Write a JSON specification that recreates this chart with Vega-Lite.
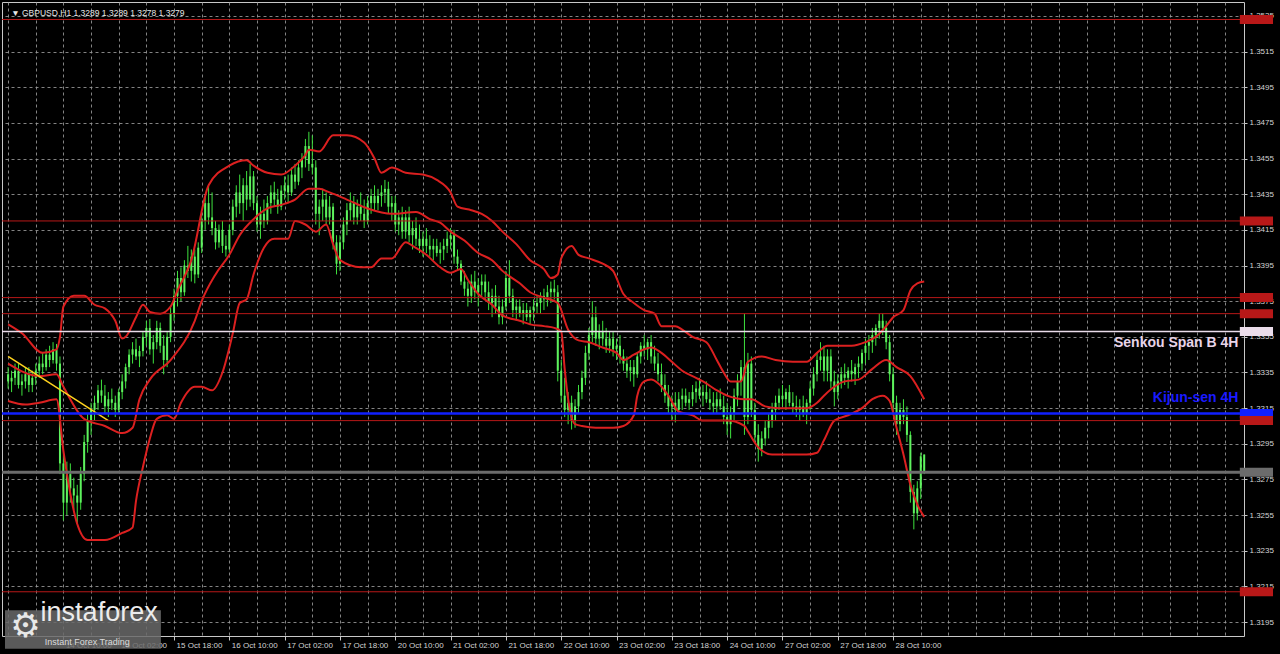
{
  "$schema": "https://vega.github.io/schema/vega-lite/v6.json",
  "width": 1242,
  "height": 634,
  "autosize": {"type": "none"},
  "padding": {"left": 2, "top": 2, "right": 36, "bottom": 18},
  "background": "#000000",
  "config": {
    "view": {"stroke": "#c8c8c8", "strokeWidth": 1, "fill": "#000000"}
  },
  "datasets": {
    "candles": [
      {"i":0,"o":1.3334,"h":1.3338,"l":1.3326,"c":1.3330},
      {"i":1,"o":1.3330,"h":1.3336,"l":1.3324,"c":1.3332},
      {"i":2,"o":1.3332,"h":1.3340,"l":1.3328,"c":1.3336},
      {"i":3,"o":1.3336,"h":1.3340,"l":1.3326,"c":1.3328},
      {"i":4,"o":1.3328,"h":1.3334,"l":1.3322,"c":1.3330},
      {"i":5,"o":1.3330,"h":1.3338,"l":1.3326,"c":1.3334},
      {"i":6,"o":1.3334,"h":1.3338,"l":1.3324,"c":1.3328},
      {"i":7,"o":1.3328,"h":1.3336,"l":1.3324,"c":1.3332},
      {"i":8,"o":1.3332,"h":1.3340,"l":1.3328,"c":1.3336},
      {"i":9,"o":1.3336,"h":1.3344,"l":1.3332,"c":1.3340},
      {"i":10,"o":1.3340,"h":1.3346,"l":1.3334,"c":1.3338},
      {"i":11,"o":1.3338,"h":1.3348,"l":1.3336,"c":1.3345},
      {"i":12,"o":1.3345,"h":1.3350,"l":1.3338,"c":1.3342},
      {"i":13,"o":1.3342,"h":1.3352,"l":1.3340,"c":1.3348},
      {"i":14,"o":1.3348,"h":1.3351,"l":1.3336,"c":1.3340},
      {"i":15,"o":1.3340,"h":1.3344,"l":1.3278,"c":1.3284},
      {"i":16,"o":1.3284,"h":1.3292,"l":1.3252,"c":1.3262},
      {"i":17,"o":1.3262,"h":1.3285,"l":1.3255,"c":1.3278},
      {"i":18,"o":1.3278,"h":1.3284,"l":1.3262,"c":1.3270},
      {"i":19,"o":1.3270,"h":1.3276,"l":1.3258,"c":1.3266},
      {"i":20,"o":1.3266,"h":1.3272,"l":1.3250,"c":1.3262},
      {"i":21,"o":1.3262,"h":1.3282,"l":1.3258,"c":1.3278},
      {"i":22,"o":1.3278,"h":1.3300,"l":1.3274,"c":1.3296},
      {"i":23,"o":1.3296,"h":1.3312,"l":1.3290,"c":1.3308},
      {"i":24,"o":1.3308,"h":1.3318,"l":1.3300,"c":1.3314},
      {"i":25,"o":1.3314,"h":1.3322,"l":1.3308,"c":1.3318},
      {"i":26,"o":1.3318,"h":1.3328,"l":1.3314,"c":1.3325},
      {"i":27,"o":1.3325,"h":1.3331,"l":1.3318,"c":1.3322},
      {"i":28,"o":1.3322,"h":1.3328,"l":1.3312,"c":1.3316},
      {"i":29,"o":1.3316,"h":1.3324,"l":1.3310,"c":1.3320},
      {"i":30,"o":1.3320,"h":1.3326,"l":1.3314,"c":1.3318},
      {"i":31,"o":1.3318,"h":1.3322,"l":1.3310,"c":1.3314},
      {"i":32,"o":1.3314,"h":1.3326,"l":1.3312,"c":1.3324},
      {"i":33,"o":1.3324,"h":1.3334,"l":1.3320,"c":1.3330},
      {"i":34,"o":1.3330,"h":1.3340,"l":1.3326,"c":1.3338},
      {"i":35,"o":1.3338,"h":1.3348,"l":1.3334,"c":1.3345},
      {"i":36,"o":1.3345,"h":1.3352,"l":1.3340,"c":1.3348},
      {"i":37,"o":1.3348,"h":1.3354,"l":1.3342,"c":1.3344},
      {"i":38,"o":1.3344,"h":1.3350,"l":1.3338,"c":1.3347},
      {"i":39,"o":1.3347,"h":1.3358,"l":1.3344,"c":1.3355},
      {"i":40,"o":1.3355,"h":1.3364,"l":1.3350,"c":1.3360},
      {"i":41,"o":1.3360,"h":1.3365,"l":1.3345,"c":1.3348},
      {"i":42,"o":1.3348,"h":1.3356,"l":1.3340,"c":1.3352},
      {"i":43,"o":1.3352,"h":1.3364,"l":1.3348,"c":1.3360},
      {"i":44,"o":1.3360,"h":1.3363,"l":1.3346,"c":1.3350},
      {"i":45,"o":1.3350,"h":1.3356,"l":1.3334,"c":1.3342},
      {"i":46,"o":1.3342,"h":1.3358,"l":1.3338,"c":1.3355},
      {"i":47,"o":1.3355,"h":1.3372,"l":1.3352,"c":1.3368},
      {"i":48,"o":1.3368,"h":1.3382,"l":1.3364,"c":1.3378},
      {"i":49,"o":1.3378,"h":1.3392,"l":1.3372,"c":1.3388},
      {"i":50,"o":1.3388,"h":1.3394,"l":1.3375,"c":1.3380},
      {"i":51,"o":1.3380,"h":1.3398,"l":1.3378,"c":1.3395},
      {"i":52,"o":1.3395,"h":1.3406,"l":1.3388,"c":1.3392},
      {"i":53,"o":1.3392,"h":1.3404,"l":1.3386,"c":1.3400},
      {"i":54,"o":1.3400,"h":1.3404,"l":1.3385,"c":1.3390},
      {"i":55,"o":1.3390,"h":1.3408,"l":1.3388,"c":1.3405},
      {"i":56,"o":1.3405,"h":1.3425,"l":1.3402,"c":1.3420},
      {"i":57,"o":1.3420,"h":1.3434,"l":1.3415,"c":1.3430},
      {"i":58,"o":1.3430,"h":1.3440,"l":1.3418,"c":1.3422},
      {"i":59,"o":1.3422,"h":1.3436,"l":1.3412,"c":1.3416},
      {"i":60,"o":1.3416,"h":1.3420,"l":1.3404,"c":1.3408},
      {"i":61,"o":1.3408,"h":1.3418,"l":1.3405,"c":1.3415},
      {"i":62,"o":1.3415,"h":1.3420,"l":1.3402,"c":1.3406},
      {"i":63,"o":1.3406,"h":1.3412,"l":1.3400,"c":1.3404},
      {"i":64,"o":1.3404,"h":1.3418,"l":1.3402,"c":1.3415},
      {"i":65,"o":1.3415,"h":1.3432,"l":1.3412,"c":1.3428},
      {"i":66,"o":1.3428,"h":1.3440,"l":1.3422,"c":1.3436},
      {"i":67,"o":1.3436,"h":1.3446,"l":1.3424,"c":1.3430},
      {"i":68,"o":1.3430,"h":1.3444,"l":1.3420,"c":1.3440},
      {"i":69,"o":1.3440,"h":1.3448,"l":1.3426,"c":1.3432},
      {"i":70,"o":1.3432,"h":1.3452,"l":1.3428,"c":1.3445},
      {"i":71,"o":1.3445,"h":1.3448,"l":1.3426,"c":1.3430},
      {"i":72,"o":1.3430,"h":1.3434,"l":1.3414,"c":1.3418},
      {"i":73,"o":1.3418,"h":1.3428,"l":1.3410,"c":1.3424},
      {"i":74,"o":1.3424,"h":1.3432,"l":1.3416,"c":1.3420},
      {"i":75,"o":1.3420,"h":1.3434,"l":1.3418,"c":1.3430},
      {"i":76,"o":1.3430,"h":1.3440,"l":1.3424,"c":1.3436},
      {"i":77,"o":1.3436,"h":1.3442,"l":1.3428,"c":1.3432},
      {"i":78,"o":1.3432,"h":1.3438,"l":1.3424,"c":1.3428},
      {"i":79,"o":1.3428,"h":1.3440,"l":1.3426,"c":1.3437},
      {"i":80,"o":1.3437,"h":1.3445,"l":1.3432,"c":1.3440},
      {"i":81,"o":1.3440,"h":1.3446,"l":1.3430,"c":1.3436},
      {"i":82,"o":1.3436,"h":1.3450,"l":1.3434,"c":1.3446},
      {"i":83,"o":1.3446,"h":1.3452,"l":1.3438,"c":1.3442},
      {"i":84,"o":1.3442,"h":1.3454,"l":1.3440,"c":1.3450},
      {"i":85,"o":1.3450,"h":1.3458,"l":1.3444,"c":1.3455},
      {"i":86,"o":1.3455,"h":1.3466,"l":1.3450,"c":1.3462},
      {"i":87,"o":1.3462,"h":1.3470,"l":1.3448,"c":1.3452},
      {"i":88,"o":1.3452,"h":1.3468,"l":1.3446,"c":1.3450},
      {"i":89,"o":1.3450,"h":1.3454,"l":1.3418,"c":1.3424},
      {"i":90,"o":1.3424,"h":1.3432,"l":1.3412,"c":1.3428},
      {"i":91,"o":1.3428,"h":1.3438,"l":1.3420,"c":1.3432},
      {"i":92,"o":1.3432,"h":1.3436,"l":1.3418,"c":1.3422},
      {"i":93,"o":1.3422,"h":1.3434,"l":1.3418,"c":1.3428},
      {"i":94,"o":1.3428,"h":1.3430,"l":1.3404,"c":1.3408},
      {"i":95,"o":1.3408,"h":1.3412,"l":1.3390,"c":1.3396},
      {"i":96,"o":1.3396,"h":1.3412,"l":1.3392,"c":1.3408},
      {"i":97,"o":1.3408,"h":1.3422,"l":1.3404,"c":1.3418},
      {"i":98,"o":1.3418,"h":1.3430,"l":1.3412,"c":1.3426},
      {"i":99,"o":1.3426,"h":1.3436,"l":1.3420,"c":1.3430},
      {"i":100,"o":1.3430,"h":1.3434,"l":1.3418,"c":1.3422},
      {"i":101,"o":1.3422,"h":1.3432,"l":1.3418,"c":1.3428},
      {"i":102,"o":1.3428,"h":1.3436,"l":1.3420,"c":1.3424},
      {"i":103,"o":1.3424,"h":1.3432,"l":1.3416,"c":1.3420},
      {"i":104,"o":1.3420,"h":1.3434,"l":1.3418,"c":1.3430},
      {"i":105,"o":1.3430,"h":1.3438,"l":1.3424,"c":1.3434},
      {"i":106,"o":1.3434,"h":1.3440,"l":1.3426,"c":1.3430},
      {"i":107,"o":1.3430,"h":1.3438,"l":1.3426,"c":1.3434},
      {"i":108,"o":1.3434,"h":1.3440,"l":1.3428,"c":1.3436},
      {"i":109,"o":1.3436,"h":1.3443,"l":1.3430,"c":1.3438},
      {"i":110,"o":1.3438,"h":1.3442,"l":1.3424,"c":1.3428},
      {"i":111,"o":1.3428,"h":1.3434,"l":1.3420,"c":1.3430},
      {"i":112,"o":1.3430,"h":1.3434,"l":1.3414,"c":1.3418},
      {"i":113,"o":1.3418,"h":1.3426,"l":1.3412,"c":1.3422},
      {"i":114,"o":1.3422,"h":1.3428,"l":1.3410,"c":1.3414},
      {"i":115,"o":1.3414,"h":1.3426,"l":1.3410,"c":1.3422},
      {"i":116,"o":1.3422,"h":1.3428,"l":1.3408,"c":1.3412},
      {"i":117,"o":1.3412,"h":1.3420,"l":1.3404,"c":1.3416},
      {"i":118,"o":1.3416,"h":1.3422,"l":1.3406,"c":1.3410},
      {"i":119,"o":1.3410,"h":1.3418,"l":1.3402,"c":1.3406},
      {"i":120,"o":1.3406,"h":1.3414,"l":1.3400,"c":1.3410},
      {"i":121,"o":1.3410,"h":1.3416,"l":1.3402,"c":1.3406},
      {"i":122,"o":1.3406,"h":1.3412,"l":1.3400,"c":1.3404},
      {"i":123,"o":1.3404,"h":1.3410,"l":1.3398,"c":1.3406},
      {"i":124,"o":1.3406,"h":1.3410,"l":1.3400,"c":1.3402},
      {"i":125,"o":1.3402,"h":1.3408,"l":1.3396,"c":1.3404},
      {"i":126,"o":1.3404,"h":1.3410,"l":1.3398,"c":1.3406},
      {"i":127,"o":1.3406,"h":1.3414,"l":1.3402,"c":1.3410},
      {"i":128,"o":1.3410,"h":1.3416,"l":1.3404,"c":1.3412},
      {"i":129,"o":1.3412,"h":1.3415,"l":1.3396,"c":1.3400},
      {"i":130,"o":1.3400,"h":1.3404,"l":1.3392,"c":1.3396},
      {"i":131,"o":1.3396,"h":1.3398,"l":1.3384,"c":1.3386},
      {"i":132,"o":1.3386,"h":1.3392,"l":1.3378,"c":1.3382},
      {"i":133,"o":1.3382,"h":1.3386,"l":1.3372,"c":1.3378},
      {"i":134,"o":1.3378,"h":1.3390,"l":1.3374,"c":1.3386},
      {"i":135,"o":1.3386,"h":1.3392,"l":1.3376,"c":1.3380},
      {"i":136,"o":1.3380,"h":1.3388,"l":1.3372,"c":1.3384},
      {"i":137,"o":1.3384,"h":1.3390,"l":1.3378,"c":1.3386},
      {"i":138,"o":1.3386,"h":1.3390,"l":1.3376,"c":1.3380},
      {"i":139,"o":1.3380,"h":1.3386,"l":1.3370,"c":1.3374},
      {"i":140,"o":1.3374,"h":1.3382,"l":1.3366,"c":1.3378},
      {"i":141,"o":1.3378,"h":1.3384,"l":1.3368,"c":1.3372},
      {"i":142,"o":1.3372,"h":1.3378,"l":1.3362,"c":1.3366},
      {"i":143,"o":1.3366,"h":1.3376,"l":1.3362,"c":1.3372},
      {"i":144,"o":1.3372,"h":1.3392,"l":1.3370,"c":1.3388},
      {"i":145,"o":1.3388,"h":1.3398,"l":1.3374,"c":1.3378},
      {"i":146,"o":1.3378,"h":1.3382,"l":1.3366,"c":1.3370},
      {"i":147,"o":1.3370,"h":1.3376,"l":1.3364,"c":1.3372},
      {"i":148,"o":1.3372,"h":1.3376,"l":1.3366,"c":1.3368},
      {"i":149,"o":1.3368,"h":1.3374,"l":1.3362,"c":1.3370},
      {"i":150,"o":1.3370,"h":1.3374,"l":1.3364,"c":1.3366},
      {"i":151,"o":1.3366,"h":1.3372,"l":1.3362,"c":1.3370},
      {"i":152,"o":1.3370,"h":1.3376,"l":1.3364,"c":1.3372},
      {"i":153,"o":1.3372,"h":1.3378,"l":1.3368,"c":1.3374},
      {"i":154,"o":1.3374,"h":1.3380,"l":1.3368,"c":1.3378},
      {"i":155,"o":1.3378,"h":1.3382,"l":1.3370,"c":1.3376},
      {"i":156,"o":1.3376,"h":1.3384,"l":1.3372,"c":1.3380},
      {"i":157,"o":1.3380,"h":1.3386,"l":1.3374,"c":1.3382},
      {"i":158,"o":1.3382,"h":1.3387,"l":1.3376,"c":1.3380},
      {"i":159,"o":1.3380,"h":1.3384,"l":1.3330,"c":1.3336},
      {"i":160,"o":1.3336,"h":1.3342,"l":1.3318,"c":1.3322},
      {"i":161,"o":1.3322,"h":1.3332,"l":1.3310,"c":1.3314},
      {"i":162,"o":1.3314,"h":1.3324,"l":1.3306,"c":1.3318},
      {"i":163,"o":1.3318,"h":1.3322,"l":1.3303,"c":1.3308},
      {"i":164,"o":1.3308,"h":1.3320,"l":1.3304,"c":1.3316},
      {"i":165,"o":1.3316,"h":1.3328,"l":1.3312,"c":1.3324},
      {"i":166,"o":1.3324,"h":1.3336,"l":1.3320,"c":1.3332},
      {"i":167,"o":1.3332,"h":1.3350,"l":1.3328,"c":1.3346},
      {"i":168,"o":1.3346,"h":1.3360,"l":1.3342,"c":1.3356},
      {"i":169,"o":1.3356,"h":1.3375,"l":1.3352,"c":1.3366},
      {"i":170,"o":1.3366,"h":1.3372,"l":1.3350,"c":1.3354},
      {"i":171,"o":1.3354,"h":1.3362,"l":1.3348,"c":1.3358},
      {"i":172,"o":1.3358,"h":1.3364,"l":1.3350,"c":1.3354},
      {"i":173,"o":1.3354,"h":1.3360,"l":1.3346,"c":1.3350},
      {"i":174,"o":1.3350,"h":1.3358,"l":1.3346,"c":1.3354},
      {"i":175,"o":1.3354,"h":1.3358,"l":1.3344,"c":1.3348},
      {"i":176,"o":1.3348,"h":1.3354,"l":1.3342,"c":1.3350},
      {"i":177,"o":1.3350,"h":1.3356,"l":1.3340,"c":1.3344},
      {"i":178,"o":1.3344,"h":1.3348,"l":1.3336,"c":1.3340},
      {"i":179,"o":1.3340,"h":1.3344,"l":1.3332,"c":1.3336},
      {"i":180,"o":1.3336,"h":1.3342,"l":1.3330,"c":1.3338},
      {"i":181,"o":1.3338,"h":1.3342,"l":1.3327,"c":1.3334},
      {"i":182,"o":1.3334,"h":1.3346,"l":1.3332,"c":1.3344},
      {"i":183,"o":1.3344,"h":1.3352,"l":1.3340,"c":1.3350},
      {"i":184,"o":1.3350,"h":1.3356,"l":1.3344,"c":1.3348},
      {"i":185,"o":1.3348,"h":1.3354,"l":1.3342,"c":1.3352},
      {"i":186,"o":1.3352,"h":1.3356,"l":1.3340,"c":1.3344},
      {"i":187,"o":1.3344,"h":1.3350,"l":1.3336,"c":1.3340},
      {"i":188,"o":1.3340,"h":1.3346,"l":1.3330,"c":1.3334},
      {"i":189,"o":1.3334,"h":1.3340,"l":1.3324,"c":1.3328},
      {"i":190,"o":1.3328,"h":1.3334,"l":1.3318,"c":1.3322},
      {"i":191,"o":1.3322,"h":1.3328,"l":1.3312,"c":1.3316},
      {"i":192,"o":1.3316,"h":1.3322,"l":1.3308,"c":1.3318},
      {"i":193,"o":1.3318,"h":1.3324,"l":1.3307,"c":1.3314},
      {"i":194,"o":1.3314,"h":1.3324,"l":1.3312,"c":1.3320},
      {"i":195,"o":1.3320,"h":1.3326,"l":1.3314,"c":1.3322},
      {"i":196,"o":1.3322,"h":1.3326,"l":1.3316,"c":1.3318},
      {"i":197,"o":1.3318,"h":1.3324,"l":1.3314,"c":1.3320},
      {"i":198,"o":1.3320,"h":1.3328,"l":1.3316,"c":1.3324},
      {"i":199,"o":1.3324,"h":1.3330,"l":1.3318,"c":1.3326},
      {"i":200,"o":1.3326,"h":1.3332,"l":1.3320,"c":1.3322},
      {"i":201,"o":1.3322,"h":1.3328,"l":1.3316,"c":1.3324},
      {"i":202,"o":1.3324,"h":1.3330,"l":1.3318,"c":1.3320},
      {"i":203,"o":1.3320,"h":1.3326,"l":1.3314,"c":1.3318},
      {"i":204,"o":1.3318,"h":1.3324,"l":1.3312,"c":1.3316},
      {"i":205,"o":1.3316,"h":1.3324,"l":1.3312,"c":1.3320},
      {"i":206,"o":1.3320,"h":1.3326,"l":1.3314,"c":1.3316},
      {"i":207,"o":1.3316,"h":1.3322,"l":1.3306,"c":1.3310},
      {"i":208,"o":1.3310,"h":1.3318,"l":1.3300,"c":1.3306},
      {"i":209,"o":1.3306,"h":1.3316,"l":1.3298,"c":1.3312},
      {"i":210,"o":1.3312,"h":1.3326,"l":1.3308,"c":1.3322},
      {"i":211,"o":1.3322,"h":1.3334,"l":1.3316,"c":1.3330},
      {"i":212,"o":1.3330,"h":1.3342,"l":1.3322,"c":1.3338},
      {"i":213,"o":1.3338,"h":1.3368,"l":1.3300,"c":1.3310},
      {"i":214,"o":1.3310,"h":1.3346,"l":1.3306,"c":1.3340},
      {"i":215,"o":1.3340,"h":1.3344,"l":1.3310,"c":1.3314},
      {"i":216,"o":1.3314,"h":1.3318,"l":1.3296,"c":1.3300},
      {"i":217,"o":1.3300,"h":1.3306,"l":1.3285,"c":1.3292},
      {"i":218,"o":1.3292,"h":1.3302,"l":1.3288,"c":1.3298},
      {"i":219,"o":1.3298,"h":1.3308,"l":1.3294,"c":1.3304},
      {"i":220,"o":1.3304,"h":1.3312,"l":1.3298,"c":1.3308},
      {"i":221,"o":1.3308,"h":1.3318,"l":1.3304,"c":1.3314},
      {"i":222,"o":1.3314,"h":1.3322,"l":1.3308,"c":1.3318},
      {"i":223,"o":1.3318,"h":1.3326,"l":1.3314,"c":1.3322},
      {"i":224,"o":1.3322,"h":1.3328,"l":1.3316,"c":1.3320},
      {"i":225,"o":1.3320,"h":1.3326,"l":1.3314,"c":1.3324},
      {"i":226,"o":1.3324,"h":1.3328,"l":1.3316,"c":1.3318},
      {"i":227,"o":1.3318,"h":1.3324,"l":1.3312,"c":1.3316},
      {"i":228,"o":1.3316,"h":1.3322,"l":1.3310,"c":1.3314},
      {"i":229,"o":1.3314,"h":1.3320,"l":1.3308,"c":1.3316},
      {"i":230,"o":1.3316,"h":1.3322,"l":1.3310,"c":1.3312},
      {"i":231,"o":1.3312,"h":1.3320,"l":1.3306,"c":1.3318},
      {"i":232,"o":1.3318,"h":1.3330,"l":1.3314,"c":1.3326},
      {"i":233,"o":1.3326,"h":1.3338,"l":1.3322,"c":1.3334},
      {"i":234,"o":1.3334,"h":1.3346,"l":1.3330,"c":1.3342},
      {"i":235,"o":1.3342,"h":1.3352,"l":1.3336,"c":1.3344},
      {"i":236,"o":1.3344,"h":1.3350,"l":1.3330,"c":1.3336},
      {"i":237,"o":1.3336,"h":1.3348,"l":1.3330,"c":1.3344},
      {"i":238,"o":1.3344,"h":1.3348,"l":1.3326,"c":1.3330},
      {"i":239,"o":1.3330,"h":1.3336,"l":1.3316,"c":1.3324},
      {"i":240,"o":1.3324,"h":1.3334,"l":1.3320,"c":1.3330},
      {"i":241,"o":1.3330,"h":1.3338,"l":1.3326,"c":1.3334},
      {"i":242,"o":1.3334,"h":1.3340,"l":1.3328,"c":1.3332},
      {"i":243,"o":1.3332,"h":1.3338,"l":1.3326,"c":1.3336},
      {"i":244,"o":1.3336,"h":1.3342,"l":1.3330,"c":1.3334},
      {"i":245,"o":1.3334,"h":1.3340,"l":1.3328,"c":1.3338},
      {"i":246,"o":1.3338,"h":1.3344,"l":1.3332,"c":1.3340},
      {"i":247,"o":1.3340,"h":1.3348,"l":1.3336,"c":1.3346},
      {"i":248,"o":1.3346,"h":1.3354,"l":1.3340,"c":1.3350},
      {"i":249,"o":1.3350,"h":1.3356,"l":1.3342,"c":1.3352},
      {"i":250,"o":1.3352,"h":1.3360,"l":1.3346,"c":1.3356},
      {"i":251,"o":1.3356,"h":1.3362,"l":1.3350,"c":1.3360},
      {"i":252,"o":1.3360,"h":1.3368,"l":1.3354,"c":1.3364},
      {"i":253,"o":1.3364,"h":1.3368,"l":1.3356,"c":1.3360},
      {"i":254,"o":1.3360,"h":1.3364,"l":1.3348,"c":1.3352},
      {"i":255,"o":1.3352,"h":1.3356,"l":1.3330,"c":1.3334},
      {"i":256,"o":1.3334,"h":1.3338,"l":1.3312,"c":1.3318},
      {"i":257,"o":1.3318,"h":1.3322,"l":1.3300,"c":1.3306},
      {"i":258,"o":1.3306,"h":1.3318,"l":1.3302,"c":1.3314},
      {"i":259,"o":1.3314,"h":1.3320,"l":1.3306,"c":1.3310},
      {"i":260,"o":1.3310,"h":1.3316,"l":1.3296,"c":1.3300},
      {"i":261,"o":1.3300,"h":1.3302,"l":1.3262,"c":1.3268},
      {"i":262,"o":1.3268,"h":1.3272,"l":1.3247,"c":1.3256},
      {"i":263,"o":1.3256,"h":1.3274,"l":1.3252,"c":1.3270},
      {"i":264,"o":1.3270,"h":1.3290,"l":1.3264,"c":1.3288},
      {"i":265,"o":1.3289,"h":1.3289,"l":1.3278,"c":1.3279}
    ],
    "bands": [
      {"b":"u","i":0,"p":1.3362},{"b":"u","i":4,"p":1.3357},{"b":"u","i":10,"p":1.3346},{"b":"u","i":14,"p":1.3348},{"b":"u","i":15,"p":1.3355},{"b":"u","i":16,"p":1.3372},{"b":"u","i":19,"p":1.3378},{"b":"u","i":22,"p":1.3378},{"b":"u","i":25,"p":1.3373},{"b":"u","i":28,"p":1.3371},{"b":"u","i":31,"p":1.3364},{"b":"u","i":33,"p":1.3354},{"b":"u","i":34,"p":1.3355},{"b":"u","i":37,"p":1.3366},{"b":"u","i":39,"p":1.3373},{"b":"u","i":41,"p":1.3369},{"b":"u","i":44,"p":1.3368},{"b":"u","i":47,"p":1.3372},{"b":"u","i":49,"p":1.3381},{"b":"u","i":53,"p":1.3398},{"b":"u","i":58,"p":1.3440},{"b":"u","i":64,"p":1.3451},{"b":"u","i":69,"p":1.3454},{"b":"u","i":71,"p":1.3451},{"b":"u","i":75,"p":1.3447},{"b":"u","i":79,"p":1.3446},{"b":"u","i":83,"p":1.3451},{"b":"u","i":86,"p":1.3457},{"b":"u","i":87,"p":1.3460},{"b":"u","i":90,"p":1.3459},{"b":"u","i":94,"p":1.3468},{"b":"u","i":98,"p":1.3468},{"b":"u","i":103,"p":1.3464},{"b":"u","i":106,"p":1.3455},{"b":"u","i":108,"p":1.3447},{"b":"u","i":111,"p":1.3450},{"b":"u","i":115,"p":1.3447},{"b":"u","i":120,"p":1.3446},{"b":"u","i":124,"p":1.3443},{"b":"u","i":128,"p":1.3436},{"b":"u","i":130,"p":1.3428},{"b":"u","i":134,"p":1.3426},{"b":"u","i":137,"p":1.3424},{"b":"u","i":140,"p":1.3420},{"b":"u","i":143,"p":1.3414},{"b":"u","i":147,"p":1.3407},{"b":"u","i":151,"p":1.3398},{"b":"u","i":155,"p":1.3393},{"b":"u","i":157,"p":1.3388},{"b":"u","i":159,"p":1.3390},{"b":"u","i":160,"p":1.3399},{"b":"u","i":163,"p":1.3406},{"b":"u","i":165,"p":1.3401},{"b":"u","i":168,"p":1.3399},{"b":"u","i":172,"p":1.3396},{"b":"u","i":175,"p":1.3392},{"b":"u","i":178,"p":1.3379},{"b":"u","i":181,"p":1.3374},{"b":"u","i":184,"p":1.3370},{"b":"u","i":187,"p":1.3368},{"b":"u","i":189,"p":1.3361},{"b":"u","i":193,"p":1.3361},{"b":"u","i":195,"p":1.3359},{"b":"u","i":198,"p":1.3355},{"b":"u","i":202,"p":1.3352},{"b":"u","i":205,"p":1.3342},{"b":"u","i":207,"p":1.3335},{"b":"u","i":209,"p":1.3330},{"b":"u","i":212,"p":1.3330},{"b":"u","i":214,"p":1.3341},{"b":"u","i":218,"p":1.3344},{"b":"u","i":222,"p":1.3342},{"b":"u","i":227,"p":1.3341},{"b":"u","i":231,"p":1.3341},{"b":"u","i":234,"p":1.3346},{"b":"u","i":237,"p":1.3350},{"b":"u","i":244,"p":1.3350},{"b":"u","i":248,"p":1.3352},{"b":"u","i":251,"p":1.3355},{"b":"u","i":254,"p":1.3361},{"b":"u","i":256,"p":1.3366},{"b":"u","i":259,"p":1.3370},{"b":"u","i":261,"p":1.3381},{"b":"u","i":263,"p":1.3385},{"b":"u","i":265,"p":1.3386},
      {"b":"m","i":0,"p":1.3340},{"b":"m","i":9,"p":1.3333},{"b":"m","i":14,"p":1.3334},{"b":"m","i":16,"p":1.3327},{"b":"m","i":22,"p":1.3309},{"b":"m","i":28,"p":1.3305},{"b":"m","i":33,"p":1.3301},{"b":"m","i":36,"p":1.3304},{"b":"m","i":38,"p":1.3320},{"b":"m","i":41,"p":1.3331},{"b":"m","i":47,"p":1.3342},{"b":"m","i":54,"p":1.3364},{"b":"m","i":56,"p":1.3375},{"b":"m","i":60,"p":1.3390},{"b":"m","i":64,"p":1.3401},{"b":"m","i":67,"p":1.3412},{"b":"m","i":71,"p":1.3421},{"b":"m","i":75,"p":1.3427},{"b":"m","i":79,"p":1.3429},{"b":"m","i":83,"p":1.3432},{"b":"m","i":87,"p":1.3438},{"b":"m","i":90,"p":1.3438},{"b":"m","i":93,"p":1.3436},{"b":"m","i":98,"p":1.3432},{"b":"m","i":104,"p":1.3427},{"b":"m","i":111,"p":1.3424},{"b":"m","i":118,"p":1.3425},{"b":"m","i":122,"p":1.3421},{"b":"m","i":125,"p":1.3419},{"b":"m","i":128,"p":1.3414},{"b":"m","i":132,"p":1.3409},{"b":"m","i":136,"p":1.3402},{"b":"m","i":140,"p":1.3398},{"b":"m","i":143,"p":1.3392},{"b":"m","i":148,"p":1.3385},{"b":"m","i":151,"p":1.3380},{"b":"m","i":155,"p":1.3377},{"b":"m","i":159,"p":1.3374},{"b":"m","i":162,"p":1.3359},{"b":"m","i":165,"p":1.3353},{"b":"m","i":168,"p":1.3352},{"b":"m","i":172,"p":1.3349},{"b":"m","i":176,"p":1.3346},{"b":"m","i":178,"p":1.3342},{"b":"m","i":181,"p":1.3345},{"b":"m","i":184,"p":1.3348},{"b":"m","i":186,"p":1.3349},{"b":"m","i":189,"p":1.3346},{"b":"m","i":192,"p":1.3341},{"b":"m","i":195,"p":1.3336},{"b":"m","i":199,"p":1.3332},{"b":"m","i":201,"p":1.3330},{"b":"m","i":205,"p":1.3325},{"b":"m","i":208,"p":1.3322},{"b":"m","i":213,"p":1.3320},{"b":"m","i":215,"p":1.3320},{"b":"m","i":219,"p":1.3316},{"b":"m","i":223,"p":1.3315},{"b":"m","i":231,"p":1.3315},{"b":"m","i":234,"p":1.3318},{"b":"m","i":236,"p":1.3322},{"b":"m","i":239,"p":1.3327},{"b":"m","i":242,"p":1.3330},{"b":"m","i":246,"p":1.3331},{"b":"m","i":250,"p":1.3337},{"b":"m","i":254,"p":1.3342},{"b":"m","i":257,"p":1.3338},{"b":"m","i":261,"p":1.3333},{"b":"m","i":265,"p":1.3320},
      {"b":"l","i":0,"p":1.3319},{"b":"l","i":5,"p":1.3317},{"b":"l","i":9,"p":1.3318},{"b":"l","i":14,"p":1.3320},{"b":"l","i":16,"p":1.3291},{"b":"l","i":18,"p":1.3267},{"b":"l","i":20,"p":1.3250},{"b":"l","i":23,"p":1.3241},{"b":"l","i":28,"p":1.3241},{"b":"l","i":33,"p":1.3245},{"b":"l","i":36,"p":1.3248},{"b":"l","i":37,"p":1.3263},{"b":"l","i":39,"p":1.3282},{"b":"l","i":41,"p":1.3298},{"b":"l","i":43,"p":1.3309},{"b":"l","i":46,"p":1.3311},{"b":"l","i":48,"p":1.3309},{"b":"l","i":50,"p":1.3318},{"b":"l","i":54,"p":1.3327},{"b":"l","i":56,"p":1.3327},{"b":"l","i":59,"p":1.3325},{"b":"l","i":62,"p":1.3335},{"b":"l","i":65,"p":1.3357},{"b":"l","i":67,"p":1.3374},{"b":"l","i":69,"p":1.3376},{"b":"l","i":71,"p":1.3390},{"b":"l","i":74,"p":1.3405},{"b":"l","i":77,"p":1.3410},{"b":"l","i":81,"p":1.3410},{"b":"l","i":83,"p":1.3420},{"b":"l","i":86,"p":1.3418},{"b":"l","i":89,"p":1.3414},{"b":"l","i":92,"p":1.3418},{"b":"l","i":94,"p":1.3407},{"b":"l","i":96,"p":1.3398},{"b":"l","i":102,"p":1.3394},{"b":"l","i":105,"p":1.3394},{"b":"l","i":108,"p":1.3399},{"b":"l","i":111,"p":1.3399},{"b":"l","i":115,"p":1.3408},{"b":"l","i":117,"p":1.3406},{"b":"l","i":121,"p":1.3401},{"b":"l","i":125,"p":1.3394},{"b":"l","i":128,"p":1.3391},{"b":"l","i":131,"p":1.3393},{"b":"l","i":133,"p":1.3387},{"b":"l","i":136,"p":1.3379},{"b":"l","i":140,"p":1.3373},{"b":"l","i":143,"p":1.3367},{"b":"l","i":148,"p":1.3364},{"b":"l","i":151,"p":1.3362},{"b":"l","i":155,"p":1.3361},{"b":"l","i":158,"p":1.3360},{"b":"l","i":160,"p":1.3358},{"b":"l","i":161,"p":1.3337},{"b":"l","i":162,"p":1.3320},{"b":"l","i":164,"p":1.3306},{"b":"l","i":166,"p":1.3305},{"b":"l","i":170,"p":1.3304},{"b":"l","i":175,"p":1.3304},{"b":"l","i":178,"p":1.3305},{"b":"l","i":181,"p":1.3311},{"b":"l","i":182,"p":1.3322},{"b":"l","i":184,"p":1.3330},{"b":"l","i":186,"p":1.3331},{"b":"l","i":188,"p":1.3329},{"b":"l","i":191,"p":1.3322},{"b":"l","i":194,"p":1.3313},{"b":"l","i":198,"p":1.3311},{"b":"l","i":201,"p":1.3308},{"b":"l","i":205,"p":1.3308},{"b":"l","i":208,"p":1.3308},{"b":"l","i":213,"p":1.3305},{"b":"l","i":214,"p":1.3302},{"b":"l","i":217,"p":1.3293},{"b":"l","i":221,"p":1.3289},{"b":"l","i":226,"p":1.3289},{"b":"l","i":231,"p":1.3289},{"b":"l","i":234,"p":1.3290},{"b":"l","i":236,"p":1.3297},{"b":"l","i":239,"p":1.3308},{"b":"l","i":243,"p":1.3311},{"b":"l","i":247,"p":1.3315},{"b":"l","i":250,"p":1.3320},{"b":"l","i":253,"p":1.3322},{"b":"l","i":255,"p":1.3319},{"b":"l","i":257,"p":1.3304},{"b":"l","i":259,"p":1.3289},{"b":"l","i":261,"p":1.3272},{"b":"l","i":263,"p":1.3261},{"b":"l","i":265,"p":1.3254}
    ],
    "trend": [
      {"t":"yellow","i":0,"p":1.3344},
      {"t":"yellow","i":29,"p":1.3308}
    ],
    "levels": [
      {"p":1.3533,"k":"r"},
      {"p":1.3420,"k":"r"},
      {"p":1.3377,"k":"r"},
      {"p":1.3368,"k":"r"},
      {"p":1.3358,"k":"s"},
      {"p":1.3312,"k":"j"},
      {"p":1.3308,"k":"r"},
      {"p":1.3212,"k":"r"},
      {"p":1.3279,"k":"c"}
    ]
  },
  "layer": [
    {
      "data": {"name": "candles"},
      "mark": {"type": "rule", "color": "#3ee23e", "strokeWidth": 1},
      "encoding": {
        "x": {
          "field": "i", "type": "quantitative",
          "scale": {"domain": [-0.32, 356.06], "nice": false, "zero": false},
          "axis": {
            "title": null,
            "values": [0,8,16,24,32,40,48,56,64,72,80,88,96,104,112,120,128,136,144,152,160,168,176,184,192,200,208,216,224,232,240,248,256,264,272,280,288,296,304,312,320,328,336,344,352],
            "tickCount": 200,
            "labelExpr": "(datum.value % 16 === 0 && datum.value <= 256) ? ['', '14 Oct 10:00', '15 Oct 02:00', '15 Oct 18:00', '16 Oct 10:00', '17 Oct 02:00', '17 Oct 18:00', '20 Oct 10:00', '21 Oct 02:00', '21 Oct 18:00', '22 Oct 10:00', '23 Oct 02:00', '23 Oct 18:00', '24 Oct 10:00', '27 Oct 02:00', '27 Oct 18:00', '28 Oct 10:00'][datum.value / 16] : ''",
            "grid": true, "gridColor": "#9a9a9a", "gridDash": [3, 3], "gridWidth": 1, "gridOpacity": 0.85,
            "domain": false,
            "tickSize": 4, "tickColor": "#c8c8c8",
            "tickOpacity": {"condition": {"test": "datum.value % 16 === 0 && datum.value >= 16 && datum.value <= 256", "value": 1}, "value": 0},
            "labelAlign": "left", "labelBaseline": "top", "labelPadding": 1, "labelOffset": 2,
            "labelColor": "#d4d4d4", "labelFont": "Liberation Sans", "labelFontSize": 8,
            "labelOverlap": false, "labelBound": false, "labelFlush": false
          }
        },
        "y": {
          "field": "l", "type": "quantitative",
          "scale": {"domain": [1.3190, 1.3540], "nice": false, "zero": false},
          "axis": {
            "title": null, "orient": "right",
            "values": [1.3195,1.3215,1.3235,1.3255,1.3275,1.3295,1.3315,1.3335,1.3355,1.3375,1.3395,1.3415,1.3435,1.3455,1.3475,1.3495,1.3515,1.3535],
            "tickCount": 200,
            "format": ".4f",
            "grid": true, "gridColor": "#9a9a9a", "gridDash": [3, 3], "gridWidth": 1, "gridOpacity": 0.85,
            "domain": false,
            "tickSize": 3, "tickColor": "#c8c8c8",
            "labelPadding": 2, "labelColor": "#d4d4d4", "labelFont": "Liberation Sans", "labelFontSize": 8,
            "labelBaseline": "middle", "labelOverlap": false, "labelBound": false, "labelFlush": false
          }
        },
        "y2": {"field": "h"}
      }
    },
    {
      "data": {"name": "candles"},
      "mark": {"type": "bar", "color": "#5ef25e", "size": 2},
      "encoding": {
        "x": {"field": "i", "type": "quantitative"},
        "y": {"field": "o", "type": "quantitative"},
        "y2": {"field": "c"}
      }
    },
    {
      "data": {"name": "bands"},
      "mark": {"type": "line", "color": "#dc2020", "strokeWidth": 2, "interpolate": "monotone"},
      "encoding": {
        "x": {"field": "i", "type": "quantitative"},
        "y": {"field": "p", "type": "quantitative"},
        "detail": {"field": "b"}
      }
    },
    {
      "data": {"name": "trend"},
      "mark": {"type": "line", "color": "#ffd21e", "strokeWidth": 1.5},
      "encoding": {
        "x": {"field": "i", "type": "quantitative"},
        "y": {"field": "p", "type": "quantitative"},
        "detail": {"field": "t"}
      }
    },
    {
      "data": {"name": "levels"},
      "mark": {"type": "rule"},
      "encoding": {
        "y": {"field": "p", "type": "quantitative"},
        "color": {"field": "k", "type": "nominal", "legend": null,
          "scale": {"domain": ["r", "s", "j", "c"], "range": ["#b81818", "#eadcea", "#1020ff", "#6c6c6c"]}},
        "strokeWidth": {"field": "k", "type": "nominal", "legend": null,
          "scale": {"domain": ["r", "s", "j", "c"], "range": [1, 3, 4, 1]}}
      }
    },
    {
      "data": {"values": [{}]},
      "mark": {"type": "text", "text": "Senkou Span B 4H", "align": "right", "baseline": "middle", "font": "Liberation Sans", "fontWeight": "bold", "fontSize": 14, "color": "#e8d4e8"},
      "encoding": {
        "x": {"datum": 355.9, "type": "quantitative"},
        "y": {"datum": 1.33517, "type": "quantitative"}
      }
    },
    {
      "data": {"values": [{}]},
      "mark": {"type": "text", "text": "Kijun-sen 4H", "align": "right", "baseline": "middle", "font": "Liberation Sans", "fontWeight": "bold", "fontSize": 14, "color": "#1a1aff"},
      "encoding": {
        "x": {"datum": 355.9, "type": "quantitative"},
        "y": {"datum": 1.33208, "type": "quantitative"}
      }
    },
    {
      "data": {"name": "levels"},
      "mark": {"type": "bar", "orient": "horizontal", "size": 9},
      "encoding": {
        "x": {"datum": 356.3, "type": "quantitative"},
        "x2": {"datum": 365.9},
        "y": {"field": "p", "type": "quantitative"},
        "color": {"field": "k", "type": "nominal", "legend": null,
          "scale": {"domain": ["r", "s", "j", "c"], "range": ["#e41c1c", "#eadcea", "#1020ff", "#ffffff"]}}
      }
    },
    {
      "data": {"name": "levels"},
      "mark": {"type": "text", "align": "left", "baseline": "middle", "font": "Liberation Sans", "fontSize": 8},
      "encoding": {
        "x": {"datum": 357.0, "type": "quantitative"},
        "y": {"field": "p", "type": "quantitative"},
        "text": {"field": "p", "type": "quantitative", "format": ".4f"},
        "color": {"field": "k", "type": "nominal", "legend": null,
          "scale": {"domain": ["r", "s", "j", "c"], "range": ["#8a0000", "#000000", "#0000a0", "#000000"]}}
      }
    },
    {
      "data": {"values": [{}]},
      "mark": {"type": "text", "text": "▼  GBPUSD,H1  1.3289 1.3289 1.3278 1.3279", "align": "left", "baseline": "middle", "font": "Liberation Sans", "fontSize": 8.5, "color": "#e6e6e6"},
      "encoding": {
        "x": {"datum": 0.9, "type": "quantitative"},
        "y": {"datum": 1.35364, "type": "quantitative"}
      }
    },
    {
      "data": {"values": [{}]},
      "mark": {"type": "rect", "color": "#6a6a6a", "opacity": 0.85},
      "encoding": {
        "x": {"datum": -0.9, "type": "quantitative"},
        "x2": {"datum": 44.2},
        "y": {"datum": 1.32016, "type": "quantitative"},
        "y2": {"datum": 1.3180}
      }
    },
    {
      "data": {"values": [{}]},
      "mark": {"type": "text", "text": "⚙", "align": "center", "baseline": "middle", "font": "DejaVu Sans", "fontSize": 34, "color": "#e8e8e8"},
      "encoding": {
        "x": {"datum": 5.0, "type": "quantitative"},
        "y": {"datum": 1.31925, "type": "quantitative"}
      }
    },
    {
      "data": {"values": [{}]},
      "mark": {"type": "text", "text": "instaforex", "align": "left", "baseline": "middle", "font": "Liberation Sans", "fontSize": 27, "color": "#ececec"},
      "encoding": {
        "x": {"datum": 9.4, "type": "quantitative"},
        "y": {"datum": 1.32000, "type": "quantitative"}
      }
    },
    {
      "data": {"values": [{}]},
      "mark": {"type": "text", "text": "Instant Forex Trading", "align": "left", "baseline": "middle", "font": "Liberation Sans", "fontSize": 9, "color": "#dcdcdc"},
      "encoding": {
        "x": {"datum": 10.6, "type": "quantitative"},
        "y": {"datum": 1.31839, "type": "quantitative"}
      }
    }
  ]
}
